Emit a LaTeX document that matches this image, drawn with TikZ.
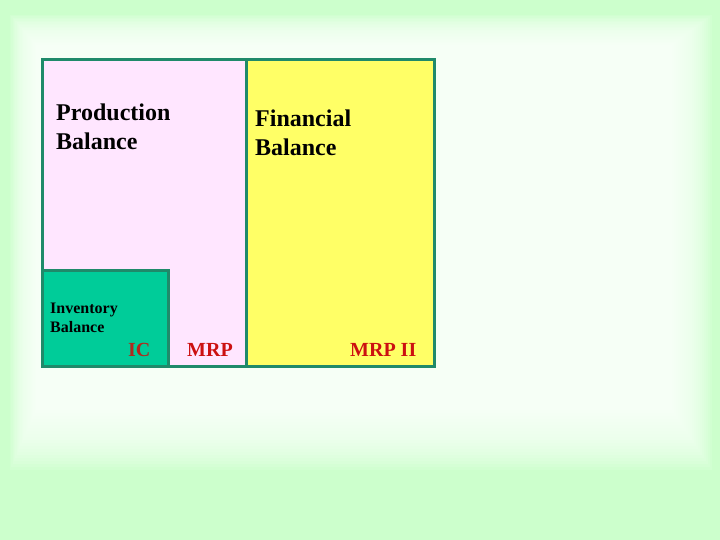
\documentclass[tikz,border=0pt]{standalone}
\usepackage{fontspec}
\setmainfont{Liberation Serif}
\usepackage{tikz}
\definecolor{bgGreen}{HTML}{CCFFCC}
\definecolor{edgeGreen}{HTML}{1F8A6A}
\definecolor{prodPink}{HTML}{FFE6FF}
\definecolor{finYellow}{HTML}{FFFF66}
\definecolor{invGreen}{HTML}{00CC99}
\definecolor{labelRed}{HTML}{CC1111}
\definecolor{icRed}{HTML}{B02A1E}
\tikzset{
  area/.style={draw=edgeGreen, line width=3pt},
  bigtext/.style={anchor=base west, inner sep=0pt, font=\bfseries\fontsize{24}{29}\selectfont, align=left},
  smalltext/.style={anchor=base west, inner sep=0pt, font=\bfseries\fontsize{16}{19}\selectfont, align=left},
  tag/.style={anchor=base west, inner sep=0pt, font=\bfseries\fontsize{20}{24}\selectfont, text=labelRed}
}

\begin{document}
\begin{tikzpicture}[x=1pt, y=-1pt]
    \useasboundingbox (0,0) rectangle (720,540);

    % background: green with a soft white centre
    \fill [bgGreen] (0,0) rectangle (720,540);
    \foreach \i in {0,...,29} {
      \fill [white, opacity=0.1]
        ({10+1.3*\i}, {15+1.5*\i}) rectangle ({712-2*\i}, {470-3*\i});
    }

    % balance areas
    \draw [area, fill=prodPink]  (42,60)  rectangle (246,366);
    \draw [area, fill=finYellow] (246,60) rectangle (434,366);
    \draw [area, fill=invGreen]  (42,270) rectangle (168,366);

    % base anchor sits on the last line
    \node [bigtext]   (prod) at (56,150)  {Production\\Balance};
    \node [bigtext]   (fin)  at (255,156) {Financial\\Balance};
    \node [smalltext] (inv)  at (50,332)  {Inventory\\Balance};

    \node [tag, text=icRed] (ic)    at (128,356) {IC};
    \node [tag]             (mrp)   at (187,356) {MRP};
    \node [tag]             (mrpii) at (350,356) {MRP II};
\end{tikzpicture}
\end{document}
